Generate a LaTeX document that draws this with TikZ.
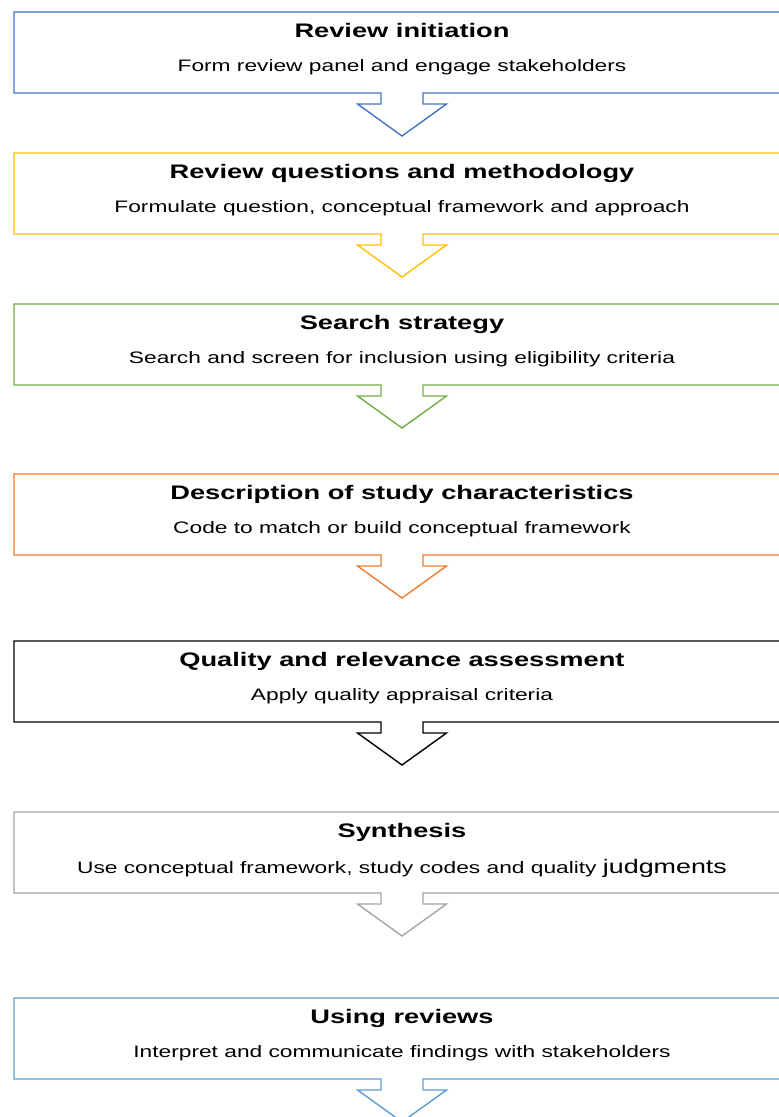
\documentclass[tikz,border=0pt]{standalone}
\usepackage{fontspec}
\setmainfont{Liberation Sans}
\usetikzlibrary{calc}

\definecolor{stageblue}{HTML}{4472C4}
\definecolor{stagegold}{HTML}{FFC000}
\definecolor{stagegreen}{HTML}{70AD47}
\definecolor{stageorange}{HTML}{ED7D31}
\definecolor{stageblack}{HTML}{000000}
\definecolor{stagegray}{HTML}{A5A5A5}
\definecolor{stagesky}{HTML}{5B9BD5}

% wide sans text
\newcommand\widetext[1]{\scalebox{1.37}[1]{#1}}
\newcommand\widetitle[1]{\scalebox{1.39}[1]{#1}}
\newcommand\stagetitlesize{\fontsize{19.6}{23}\selectfont}
\newcommand\stagebodysize{\fontsize{16.6}{20}\selectfont}

\tikzset{
  stagebox/.style={minimum width=776pt, minimum height=81pt, inner sep=0pt,
    outer sep=0pt, anchor=north west},
  stagetitle/.style={anchor=base, inner sep=0pt, font=\stagetitlesize\bfseries},
  stagebody/.style={anchor=base, inner sep=0pt, font=\stagebodysize},
  outline/.style={line width=1.4pt, line join=miter},
}

% box outline with the down arrow hanging below it
\newcommand\stageoutline[2]{%
  \draw[outline, #2] (#1.north west) -- (#1.north east) -- (#1.south east)
    -- ($(#1.south)+(21,0)$) -- ++(0,11) -- ++(23.5,0)
    -- ($(#1.south)+(0,43)$)
    -- ($(#1.south)+(-44.5,11)$) -- ++(23.5,0)
    -- ($(#1.south)+(-21,0)$) -- (#1.south west) -- cycle;}

\begin{document}
\begin{tikzpicture}[x=1pt,y=-1pt]
\useasboundingbox (0,0) rectangle (779,1117);
\clip (0,0) rectangle (779,1117);

% 1
\node[stagebox] (s1) at (14,12) {};
\node[stagetitle] (t1) at ($(s1.north)+(0,25)$) {\widetitle{Review initiation}};
\node[stagebody] (d1) at ($(s1.north)+(0,59)$) {\widetext{Form review panel and engage stakeholders}};
\stageoutline{s1}{stageblue}

% 2
\node[stagebox] (s2) at (14,153) {};
\node[stagetitle] (t2) at ($(s2.north)+(0,25)$) {\widetitle{Review questions and methodology}};
\node[stagebody] (d2) at ($(s2.north)+(0,59)$) {\widetext{Formulate question, conceptual framework and approach}};
\stageoutline{s2}{stagegold}

% 3
\node[stagebox] (s3) at (14,304) {};
\node[stagetitle] (t3) at ($(s3.north)+(0,25)$) {\widetitle{Search strategy}};
\node[stagebody] (d3) at ($(s3.north)+(0,59)$) {\widetext{Search and screen for inclusion using eligibility criteria}};
\stageoutline{s3}{stagegreen}

% 4
\node[stagebox] (s4) at (14,474) {};
\node[stagetitle] (t4) at ($(s4.north)+(0,25)$) {\widetitle{Description of study characteristics}};
\node[stagebody] (d4) at ($(s4.north)+(0,59)$) {\widetext{Code to match or build conceptual framework}};
\stageoutline{s4}{stageorange}

% 5
\node[stagebox] (s5) at (14,641) {};
\node[stagetitle] (t5) at ($(s5.north)+(0,25)$) {\widetitle{Quality and relevance assessment}};
\node[stagebody] (d5) at ($(s5.north)+(0,59)$) {\widetext{Apply quality appraisal criteria}};
\stageoutline{s5}{stageblack}

% 6
\node[stagebox] (s6) at (14,812) {};
\node[stagetitle] (t6) at ($(s6.north)+(0,25)$) {\widetitle{Synthesis}};
\node[stagebody] (d6) at ($(s6.north)+(0,61)$) {\widetext{Use conceptual framework, study codes and quality {\stagetitlesize judgments}}};
\stageoutline{s6}{stagegray}

% 7
\node[stagebox] (s7) at (14,998) {};
\node[stagetitle] (t7) at ($(s7.north)+(0,25)$) {\widetitle{Using reviews}};
\node[stagebody] (d7) at ($(s7.north)+(0,59)$) {\widetext{Interpret and communicate findings with stakeholders}};
\stageoutline{s7}{stagesky}
\end{tikzpicture}
\end{document}
